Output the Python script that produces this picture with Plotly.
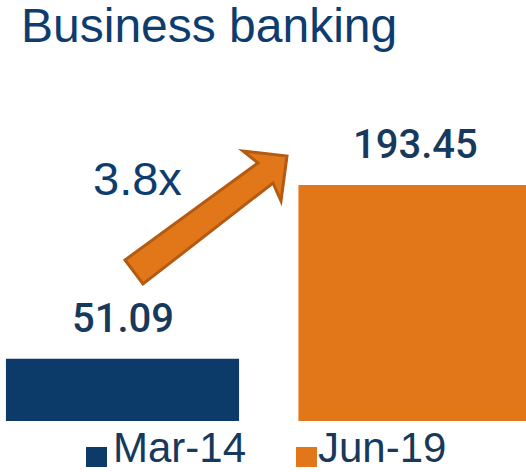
import plotly.graph_objects as go

# Data
categories = ["Mar-14", "Jun-19"]
values = [51.09, 193.45]
colors = ["#0c3b69", "#e2771a"]
growth_label = "3.8x"
title_text = "Business banking"

W, H = 526, 472
FONT = "Liberation Sans, Arial, sans-serif"
VALUE_FONT = "Roboto, Liberation Sans, sans-serif"
NAVY = "#0d3d6e"
LABEL_NAVY = "#17395c"


def px(x):
    return x / W


def py(y):
    return 1 - y / H


fig = go.Figure()
for cat, val, col in zip(categories, values, colors):
    fig.add_trace(go.Bar(
        x=[cat], y=[val], name=cat,
        marker=dict(color=col, line=dict(width=0)),
        width=0.797, showlegend=False, hoverinfo="skip",
    ))

# value labels above the bars
for cat, val in zip(categories, values):
    fig.add_annotation(
        x=cat, y=val, xref="x", yref="y", text=f"{val:.2f}",
        showarrow=False, yanchor="bottom", yshift=15,
        font=dict(family=VALUE_FONT, size=40, color=LABEL_NAVY, weight=500),
    )

# title
fig.add_annotation(
    x=px(19), y=py(26), xref="paper", yref="paper", text=title_text,
    showarrow=False, xanchor="left", yanchor="middle",
    font=dict(family=FONT, size=48, color=NAVY),
)

# growth multiple
fig.add_annotation(
    x=px(137), y=py(178), xref="paper", yref="paper", text=growth_label,
    showarrow=False, xanchor="center", yanchor="middle",
    font=dict(family=FONT, size=47, color=NAVY),
)

# block arrow between the bars
arrow_pts = [(125, 260), (258, 163), (243, 151), (287, 156),
             (281, 201), (273, 183), (143, 284)]
path = "M " + " L ".join(f"{px(a):.5f},{py(b):.5f}" for a, b in arrow_pts) + " Z"
fig.add_shape(type="path", path=path, xref="paper", yref="paper",
              fillcolor="#e2771a", line=dict(color="#b35b12", width=3))

# legend drawn as squares with labels
legend_items = [(86, 111), (296, 316)]
for (sq_x, txt_x), cat, col in zip(legend_items, categories, colors):
    fig.add_shape(type="rect", xref="paper", yref="paper",
                  x0=px(sq_x), x1=px(sq_x + 21), y0=py(447), y1=py(467),
                  fillcolor=col, line=dict(width=0))
    fig.add_annotation(
        x=px(txt_x), y=py(447), xref="paper", yref="paper", text=cat,
        showarrow=False, xanchor="left", yanchor="middle",
        font=dict(family=FONT, size=42, color=LABEL_NAVY),
    )

k = 1.22  # pixels per unit
fig.update_layout(
    width=W, height=H,
    margin=dict(l=0, r=0, t=0, b=0),
    paper_bgcolor="white", plot_bgcolor="white",
    barmode="overlay",
    xaxis=dict(range=[-0.4188, 1.3795], visible=False),
    yaxis=dict(range=[-51 / k, 421 / k], visible=False),
)

fig.write_html("out.html")
